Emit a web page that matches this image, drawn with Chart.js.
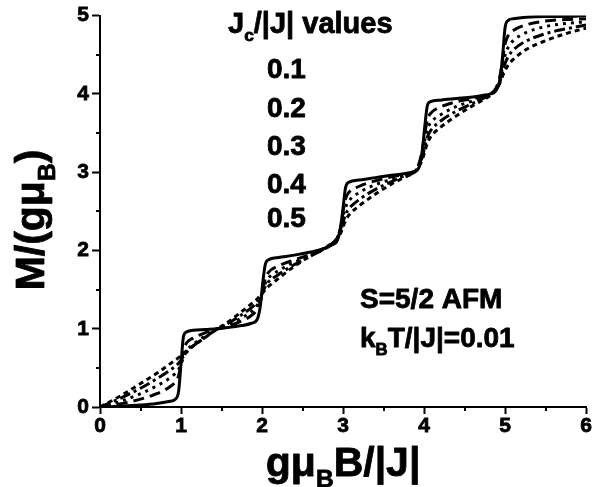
<!DOCTYPE html>
<html>
<head>
<meta charset="utf-8">
<script src="https://cdn.jsdelivr.net/npm/chart.js@4.4.1/dist/chart.umd.min.js"></script>
<style>
  html, body { margin: 0; padding: 0; background: #fff; }
  #wrap { width: 592px; height: 487px; }
</style>
</head>
<body>
<div id="wrap"><canvas id="magChart" width="592" height="487"></canvas></div>
<script>
// reduced field g*muB*B/|J|, denser around the level crossings
const fieldB = [0, 0.25, 0.5, 0.7, 0.85, 0.93, 0.97,
  1.0, 1.03, 1.07, 1.15, 1.3, 1.45, 1.6, 1.75, 1.87, 1.94, 1.98,
  2.01, 2.04, 2.08, 2.2, 2.4, 2.6, 2.75, 2.86, 2.93, 2.97,
  3.0, 3.03, 3.07, 3.2, 3.4, 3.6, 3.75, 3.88, 3.94, 3.98,
  4.01, 4.04, 4.08, 4.2, 4.4, 4.6, 4.72, 4.82, 4.89, 4.94, 4.97,
  5.0, 5.04, 5.1, 5.25, 5.5, 5.75, 6.0];

// M/(g muB) for each Jc/|J|
const magJc01 = [0, 0.01, 0.025, 0.045, 0.07, 0.1, 0.2,
  0.55, 0.9, 0.96, 0.98, 0.99, 1.0, 1.02, 1.04, 1.07, 1.12, 1.3,
  1.6, 1.82, 1.88, 1.91, 1.94, 1.98, 2.02, 2.07, 2.13, 2.3,
  2.55, 2.8, 2.87, 2.9, 2.93, 2.96, 2.98, 3.01, 3.07, 3.3,
  3.6, 3.85, 3.9, 3.92, 3.94, 3.96, 3.98, 4.0, 4.05, 4.2, 4.5,
  4.85, 4.94, 4.96, 4.98, 4.99, 4.99, 5.0];
const magJc02 = [0, 0.04, 0.1, 0.17, 0.25, 0.32, 0.4,
  0.55, 0.72, 0.82, 0.88, 0.95, 1.0, 1.04, 1.1, 1.17, 1.25, 1.35,
  1.5, 1.64, 1.72, 1.8, 1.88, 1.95, 2.01, 2.08, 2.17, 2.3,
  2.5, 2.66, 2.74, 2.82, 2.89, 2.94, 2.97, 3.01, 3.12, 3.3,
  3.5, 3.67, 3.75, 3.83, 3.9, 3.94, 3.97, 4.0, 4.08, 4.25, 4.45,
  4.64, 4.75, 4.81, 4.88, 4.93, 4.95, 4.96];
const magJc03 = [0, 0.07, 0.17, 0.27, 0.36, 0.43, 0.48,
  0.55, 0.63, 0.72, 0.8, 0.91, 1.0, 1.06, 1.14, 1.22, 1.3, 1.37,
  1.48, 1.58, 1.65, 1.74, 1.85, 1.94, 2.01, 2.08, 2.17, 2.27,
  2.43, 2.55, 2.63, 2.74, 2.84, 2.91, 2.96, 3.0, 3.1, 3.25,
  3.42, 3.55, 3.63, 3.73, 3.84, 3.91, 3.95, 3.99, 4.07, 4.2, 4.35,
  4.5, 4.6, 4.68, 4.78, 4.86, 4.9, 4.92];
const magJc04 = [0, 0.11, 0.24, 0.36, 0.46, 0.52, 0.56,
  0.6, 0.65, 0.7, 0.78, 0.89, 1.0, 1.08, 1.18, 1.27, 1.34, 1.4,
  1.47, 1.54, 1.6, 1.69, 1.82, 1.93, 2.01, 2.08, 2.16, 2.24,
  2.36, 2.46, 2.53, 2.65, 2.78, 2.88, 2.95, 3.0, 3.09, 3.2,
  3.33, 3.45, 3.53, 3.65, 3.78, 3.88, 3.94, 3.99, 4.06, 4.17, 4.28,
  4.39, 4.48, 4.56, 4.67, 4.77, 4.83, 4.88];
const magJc05 = [0, 0.14, 0.3, 0.43, 0.54, 0.6, 0.63,
  0.66, 0.69, 0.72, 0.78, 0.89, 1.0, 1.1, 1.22, 1.32, 1.38, 1.43,
  1.46, 1.5, 1.54, 1.64, 1.8, 1.93, 2.02, 2.09, 2.15, 2.22,
  2.3, 2.38, 2.45, 2.57, 2.72, 2.85, 2.93, 3.0, 3.08, 3.17,
  3.27, 3.37, 3.45, 3.57, 3.72, 3.85, 3.92, 3.98, 4.05, 4.15, 4.23,
  4.3, 4.37, 4.44, 4.56, 4.68, 4.77, 4.84];

const jcLabels = ['0.1', '0.2', '0.3', '0.4', '0.5'];
const xTickValues = [0, 1, 2, 3, 4, 5, 6];
const yTickValues = [0, 1, 2, 3, 4, 5];

const seriesList = [magJc01, magJc02, magJc03, magJc04, magJc05];
const dashes = [[], [11, 6], [3, 5], [11, 4, 3, 4], [5, 4]];
const FONT = '"Liberation Sans", Arial, sans-serif';

function toPoints(vals) {
  return fieldB.map((b, i) => ({ x: b, y: vals[i] }));
}

// draw a run of text pieces, some of them subscripts; thin stroke for a heavier face
function richText(ctx, parts, x, y, size) {
  let cx = x;
  ctx.lineWidth = 0.8;
  ctx.lineJoin = 'round';
  parts.forEach(p => {
    const s = p.sub ? size * 0.6 : size;
    const yy = p.sub ? y + size * 0.28 : y;
    ctx.font = 'bold ' + s + 'px ' + FONT;
    ctx.fillText(p.t, cx, yy);
    ctx.strokeText(p.t, cx, yy);
    cx += ctx.measureText(p.t).width;
  });
  return cx - x;
}
function richWidth(ctx, parts, size) {
  let w = 0;
  parts.forEach(p => {
    ctx.font = 'bold ' + (p.sub ? size * 0.6 : size) + 'px ' + FONT;
    w += ctx.measureText(p.t).width;
  });
  return w;
}

const labelsPlugin = {
  id: 'labels',
  afterDraw(chart) {
    const ctx = chart.ctx;
    const xs = chart.scales.x, ys = chart.scales.y;
    ctx.save();
    ctx.fillStyle = '#000';
    ctx.strokeStyle = '#000';

    // minor ticks at the half units
    ctx.lineWidth = 2;
    ctx.beginPath();
    for (let v = 0.5; v < 6; v += 1) {
      const px = Math.round(xs.getPixelForValue(v));
      ctx.moveTo(px, ys.bottom);
      ctx.lineTo(px, ys.bottom + 4);
    }
    for (let v = 0.5; v < 5; v += 1) {
      const py = Math.round(ys.getPixelForValue(v));
      ctx.moveTo(xs.left, py);
      ctx.lineTo(xs.left - 4, py);
    }
    ctx.stroke();

    ctx.textBaseline = 'alphabetic';
    ctx.textAlign = 'left';

    // axis titles
    const xTitle = [{ t: 'gμ' }, { t: 'B', sub: true }, { t: 'B/|J|' }];
    const xw = richWidth(ctx, xTitle, 41);
    richText(ctx, xTitle, (xs.left + xs.right) / 2 - xw / 2, 476, 41);

    const yTitle = [{ t: 'M/(gμ' }, { t: 'B', sub: true }, { t: ')' }];
    const yw = richWidth(ctx, yTitle, 41);
    ctx.save();
    ctx.translate(44, 220);
    ctx.rotate(-Math.PI / 2);
    richText(ctx, yTitle, -yw / 2, 0, 41);
    ctx.restore();

    // legend block
    richText(ctx, [{ t: 'J' }, { t: 'c', sub: true }, { t: '/|J| values' }], 228, 33, 29);
    const rows = [78, 117, 155, 193, 227];
    chart.data.datasets.forEach((ds, i) => {
      richText(ctx, [{ t: ds.label }], 267, rows[i], 28);
    });

    // parameters
    richText(ctx, [{ t: 'S=5/2 AFM' }], 360, 308, 28);
    richText(ctx, [{ t: 'k' }, { t: 'B', sub: true }, { t: 'T/|J|=0.01' }], 360, 347, 28);
    ctx.restore();
  }
};

const tickFont = { family: FONT, size: 21, weight: 'bold' };

new Chart(document.getElementById('magChart'), {
  type: 'line',
  data: {
    datasets: seriesList.map((vals, i) => ({
      label: jcLabels[i],
      data: toPoints(vals),
      borderColor: '#000',
      borderWidth: 3,
      borderDash: dashes[i],
      pointRadius: 0,
      fill: false,
      cubicInterpolationMode: 'monotone'
    }))
  },
  options: {
    responsive: false,
    animation: false,
    devicePixelRatio: 1,
    layout: { padding: { top: 13, right: 5, left: 0, bottom: 0 } },
    plugins: { legend: { display: false }, tooltip: { enabled: false } },
    scales: {
      x: {
        type: 'linear', min: 0, max: 6,
        afterBuildTicks: s => { s.ticks = xTickValues.map(v => ({ value: v })); },
        ticks: { color: '#000', font: tickFont, padding: 0, maxRotation: 0,
                 textStrokeColor: '#000', textStrokeWidth: 0.8 },
        grid: { drawOnChartArea: false, drawTicks: true, tickLength: 7, tickWidth: 2, tickColor: '#000' },
        border: { display: true, color: '#000', width: 2 },
        afterFit: s => { s.height = 80; }
      },
      y: {
        type: 'linear', min: 0, max: 5,
        afterBuildTicks: s => { s.ticks = yTickValues.map(v => ({ value: v })); },
        ticks: { color: '#000', font: tickFont, padding: 3,
                 textStrokeColor: '#000', textStrokeWidth: 0.8 },
        grid: { drawOnChartArea: false, drawTicks: true, tickLength: 8, tickWidth: 2, tickColor: '#000' },
        border: { display: true, color: '#000', width: 2 },
        afterFit: s => { s.width = 100; }
      }
    }
  },
  plugins: [labelsPlugin]
});
</script>
</body>
</html>
